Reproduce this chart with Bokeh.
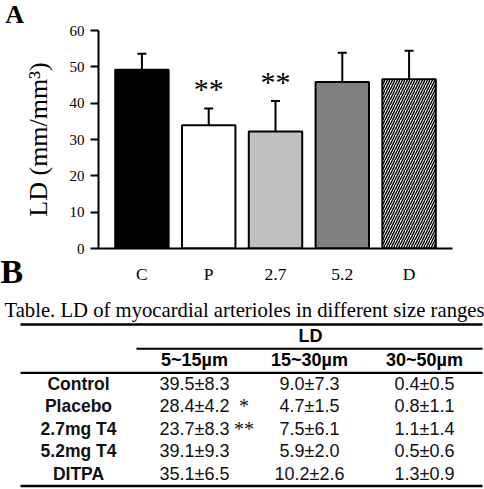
from bokeh.plotting import figure
from bokeh.models import (ColumnDataSource, FactorRange, Range1d, FixedTicker,
                          Whisker, TeeHead, Label)
from bokeh.layouts import column
from bokeh.embed import file_html
from bokeh.resources import INLINE
from bokeh.core.properties import value, field

# ---------------- data ----------------
groups = ["C", "P", "2.7", "5.2", "D"]
ld_mean = [49.2, 33.9, 32.2, 45.8, 46.6]
ld_err = [4.4, 4.6, 8.4, 8.1, 7.8]
bar_sig = ["", "**", "**", "", ""]
y_ticks = [0, 10, 20, 30, 40, 50, 60]
y_label = "LD (mm/mm³)"

table_title = "Table. LD of myocardial arterioles in different size ranges"
table_header = "LD"
row_labels = ["Control", "Placebo", "2.7mg T4", "5.2mg T4", "DITPA"]
size_ranges = ["5~15µm", "15~30µm", "30~50µm"]
small_mean = [39.5, 28.4, 23.7, 39.1, 35.1]
small_sd = [8.3, 4.2, 8.3, 9.3, 6.5]
mid_mean = [9.0, 4.7, 7.5, 5.9, 10.2]
mid_sd = [7.3, 1.5, 6.1, 2.0, 2.6]
large_mean = [0.4, 0.8, 1.1, 0.5, 1.3]
large_sd = [0.5, 1.1, 1.4, 0.6, 0.9]
table_sig = ["", "*", "**", "", ""]

# ---------------- styles ----------------
bar_colors = ["black", "white", "#c0c0c0", "#808080", "white"]
bar_hatch = [" ", " ", " ", " ", "/"]
SERIF = "Liberation Serif"
SANS = "Liberation Sans"
W = 484
H1 = 290
H2 = 199
L, R, T, B = 98, 32, 30, 42

# ---------------- panel A ----------------
upper = [m + e for m, e in zip(ld_mean, ld_err)]
src = ColumnDataSource(dict(cat=groups, mean=ld_mean, upper=upper,
                            color=bar_colors, hatch=bar_hatch,
                            star=bar_sig, star_y=[u + 5.5 for u in upper]))

p = figure(width=W, height=H1,
           x_range=FactorRange(factors=groups, range_padding=0.15,
                               range_padding_units="absolute"),
           y_range=Range1d(0, 60),
           output_backend="svg", toolbar_location=None,
           min_border_left=L, min_border_right=R,
           min_border_top=T, min_border_bottom=B)
p.outline_line_color = None
p.grid.visible = False
p.background_fill_color = "white"
p.border_fill_color = "white"

p.vbar(x="cat", top="mean", bottom=0, width=0.8, source=src,
       fill_color=field("color"), line_color="black", line_width=2,
       hatch_pattern=field("hatch"), hatch_color="black",
       hatch_scale=5, hatch_weight=1.4)

w = Whisker(base="cat", upper="upper", lower="mean", source=src,
            line_color="black", line_width=2,
            upper_head=TeeHead(size=9, line_color="black", line_width=2),
            lower_head=None)
p.add_layout(w)

p.text(x="cat", y="star_y", text="star", source=src,
       text_font=value(SERIF), text_font_size="30px", text_align="center",
       text_baseline="alphabetic", text_color="black")

yax = p.yaxis[0]
yax.ticker = FixedTicker(ticks=y_ticks)
yax.major_tick_out = 8
yax.major_tick_in = 0
yax.minor_tick_line_color = None
yax.major_tick_line_width = 2
yax.major_tick_line_color = "black"
yax.axis_line_width = 2
yax.axis_line_color = "black"
yax.major_label_text_font = SERIF
yax.major_label_text_font_size = "15px"
yax.major_label_text_color = "black"
yax.major_label_standoff = 6
yax.axis_label = y_label
yax.axis_label_text_font = SERIF
yax.axis_label_text_font_style = "normal"
yax.axis_label_text_font_size = "26px"
yax.axis_label_text_color = "black"
yax.axis_label_standoff = 14

xax = p.xaxis[0]
xax.major_tick_line_color = None
xax.minor_tick_line_color = None
xax.axis_line_width = 2
xax.axis_line_color = "black"
xax.major_label_text_font = SERIF
xax.major_label_text_font_size = "17.5px"
xax.major_label_text_color = "black"
xax.major_label_standoff = 9

# panel letters, placed in data space of panel A (outside the frame,
# so they are attached to side panels to avoid frame clipping)
px_per_cat = (W - L - R) / 5.15
px_per_unit = (H1 - T - B) / 60.0
def cat_x(px):
    return (px - L) / px_per_cat - 0.075
def val_y(py):
    return (H1 - B - py) / px_per_unit

p.add_layout(Label(x=cat_x(-3), y=val_y(28), text="A",
                   text_font=SERIF, text_font_style="bold",
                   text_font_size="26px", text_color="black"), "left")
p.add_layout(Label(x=cat_x(-8), y=val_y(289), text="B",
                   text_font=SERIF, text_font_style="bold",
                   text_font_size="34px", text_color="black"), "right")

# ---------------- panel B (table) ----------------
t = figure(width=W, height=H2, x_range=Range1d(0, W), y_range=Range1d(H2, 0),
           output_backend="svg", toolbar_location=None, min_border=0,
           x_axis_type=None, y_axis_type=None)
t.outline_line_color = None
t.grid.visible = False
t.background_fill_color = "white"
t.border_fill_color = "white"

for fig in (p, t):
    try:
        fig.frame_align = False
    except Exception:
        pass

# rules
rule_y = [34.0, 58.3, 82.3, 195.5]
rule_x0 = [20.0, 136.0, 20.0, 20.0]
rule_x1 = [482.0, 482.0, 482.0, 482.0]
rule_w = [2.7, 2.0, 2.2, 2.7]
t.segment(x0=rule_x0, x1=rule_x1, y0=rule_y, y1=rule_y,
          line_color="black", line_width=rule_w)

t.text(x=[244], y=[19], text=[table_title], text_font=value(SERIF),
       text_font_size="20.7px", text_align="center",
       text_baseline="alphabetic", text_color="black")
t.text(x=[310], y=[45], text=[table_header], text_font=value(SANS),
       text_font_style="bold", text_font_size="18px", text_align="center",
       text_baseline="middle", text_color="black")

col_x = [194.0, 309.0, 424.0]
t.text(x=col_x, y=[69.5] * 3, text=size_ranges, text_font=value(SANS),
       text_font_style="bold", text_font_size="18px", text_align="center",
       text_baseline="middle", text_color="black")

row_y = [93.3 + 22.5 * i for i in range(len(row_labels))]
t.text(x=[78] * len(row_labels), y=row_y, text=row_labels,
       text_font=value(SANS), text_font_style="bold", text_font_size="17.5px",
       text_align="center", text_baseline="middle", text_color="#111111")

for cx, means, sds in zip(col_x, [small_mean, mid_mean, large_mean],
                          [small_sd, mid_sd, large_sd]):
    cells = [f"{m:.1f}±{s:.1f}" for m, s in zip(means, sds)]
    t.text(x=[cx] * len(cells), y=row_y, text=cells, text_font=value(SANS),
           text_font_size="18px", text_align="center",
           text_baseline="middle", text_color="#111111")

t.text(x=[243.5] * len(table_sig), y=row_y, text=table_sig,
       text_font=value(SERIF), text_font_size="20px", text_align="center",
       text_baseline="alphabetic", text_color="#111111")

layout = column(p, t)
open("out.html", "w").write(file_html(layout, INLINE))
